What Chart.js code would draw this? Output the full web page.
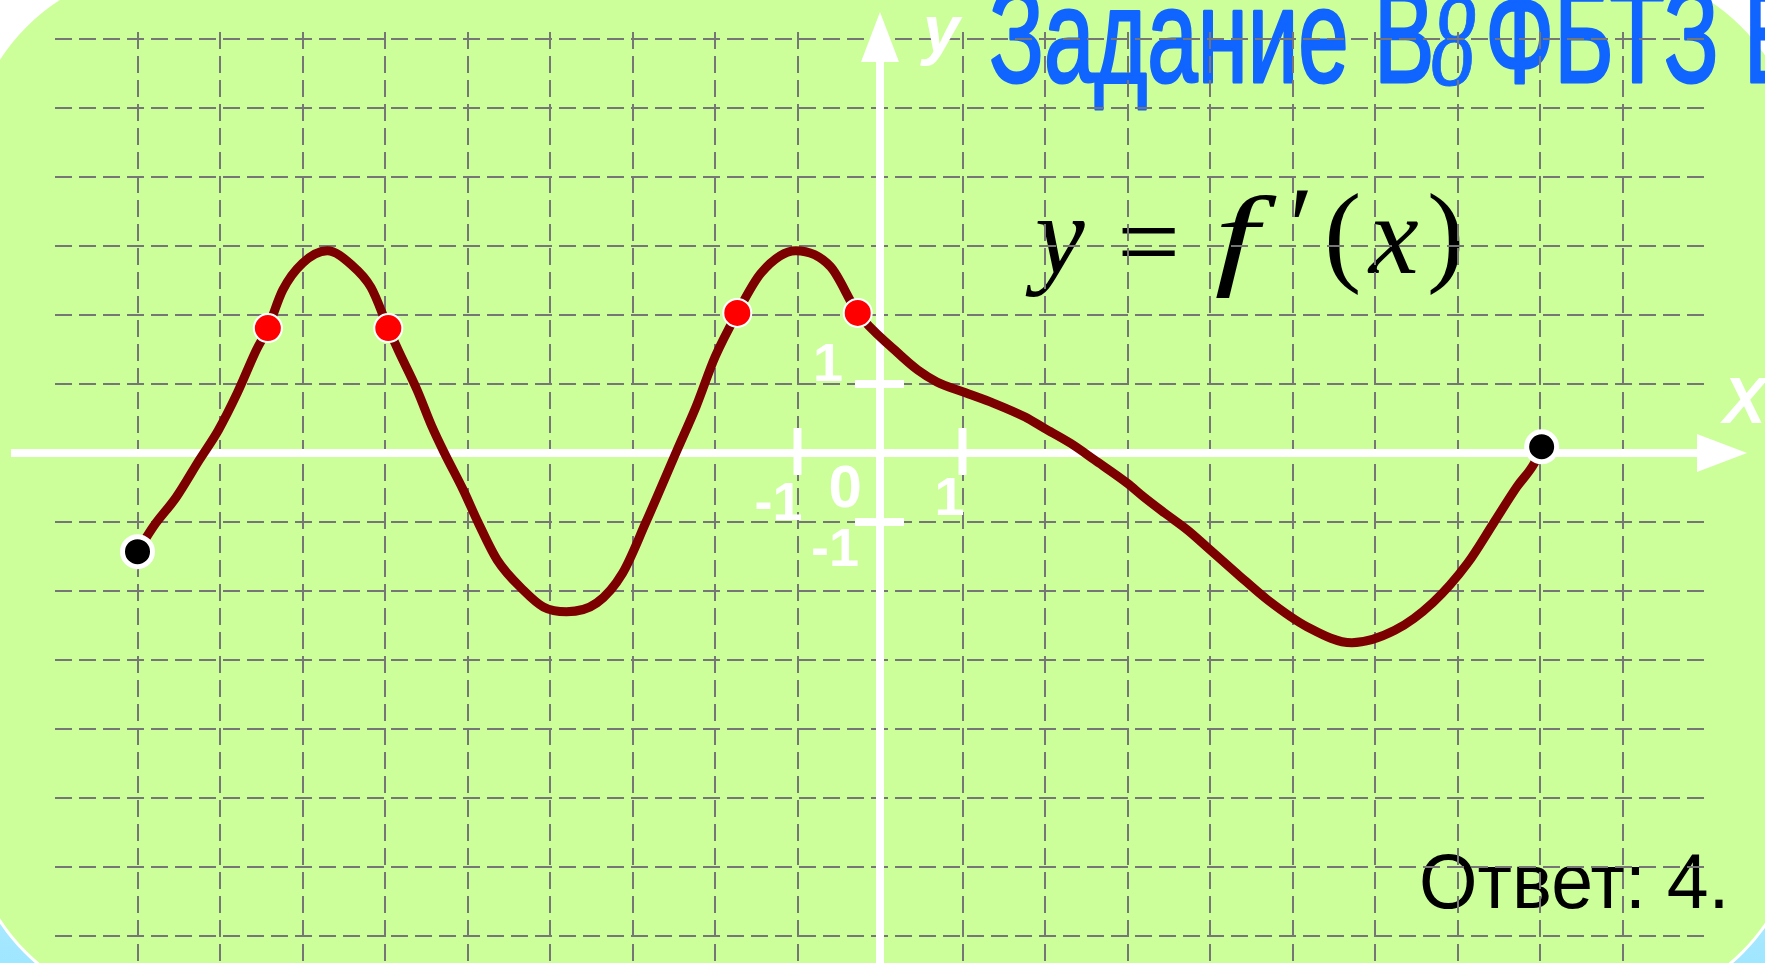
<!DOCTYPE html>
<html>
<head>
<meta charset="utf-8">
<script src="https://cdn.jsdelivr.net/npm/chart.js@4/dist/chart.umd.min.js"></script>
<style>
  html, body { margin: 0; padding: 0; }
  body {
    width: 1765px; height: 963px; overflow: hidden; position: relative;
    background: linear-gradient(#ffffff 0%, #ffffff 55%, #c8f4ff 80%, #9fe6ff 100%);
  }
  #board {
    position: absolute; left: -34px; top: -34px; width: 1836px; height: 1046px;
    background: #ccff99; border-radius: 200px; border: 3px solid #ffffff; box-sizing: border-box;
  }
  #plot { position: absolute; left: 0; top: 0; }
</style>
</head>
<body>
<div id="board"></div>
<canvas id="plot" width="1765" height="963"></canvas>
<script>
// Graph of y = f'(x): sampled points of the curve
const curveX = [-9.0, -8.81, -8.53, -8.25, -8.02, -7.79, -7.56, -7.42, -7.24, -7.0, -6.7, -6.4, -6.17, -5.96,
  -5.84, -5.61, -5.43, -5.28, -5.05, -4.87, -4.64, -4.32, -4.08, -3.8, -3.43, -3.12, -2.84, -2.46, -2.23,
  -2.0, -1.73, -1.44, -1.02, -0.6, -0.27, 0.18, 0.46, 0.69, 1.02, 1.38, 1.76, 1.99, 2.31, 2.6, 3.0, 3.19,
  3.45, 3.73, 3.96, 4.33, 4.7, 5.18, 5.72, 6.24, 6.7, 7.12, 7.44, 7.72, 7.93, 8.02];
const curveY = [-1.43, -1.07, -0.64, -0.1, 0.33, 0.87, 1.49, 1.81, 2.36, 2.75, 2.93, 2.72, 2.4, 1.81,
  1.49, 0.91, 0.38, 0.0, -0.54, -1.01, -1.55, -1.99, -2.23, -2.3, -2.17, -1.74, -1.01, 0.04, 0.67,
  1.39, 2.03, 2.61, 2.93, 2.7, 2.03, 1.49, 1.2, 1.03, 0.88, 0.72, 0.52, 0.36, 0.14, -0.1, -0.44, -0.63,
  -0.87, -1.12, -1.36, -1.75, -2.13, -2.52, -2.75, -2.57, -2.17, -1.6, -1.01, -0.49, -0.15, 0.09];

// Marked points on the curve (red) and the ends of the graph (black)
const markedX = [-7.42, -5.96, -1.73, -0.27];
const markedY = [1.81, 1.81, 2.03, 2.03];
const endX = [-9.0, 8.02];
const endY = [-1.43, 0.09];

// Grid lines and axis ticks
const xGridValues = [-9, -8, -7, -6, -5, -4, -3, -2, -1, 0, 1, 2, 3, 4, 5, 6, 7, 8, 9];
const yGridValues = [-7, -6, -5, -4, -3, -2, -1, 0, 1, 2, 3, 4, 5, 6];
const axisTicks = [-1, 1];

// Texts
const titleMain = 'Задание В';
const titleNum = '8';
const titleTail = 'ФБТЗ Б';
const answerText = 'Ответ: 4.';

const SANS = "'Liberation Sans', Arial, sans-serif";
const SERIF = "'Liberation Serif', 'Times New Roman', serif";

const toPoints = (xs, ys) => xs.map((x, i) => ({ x: x, y: ys[i] }));

// draw text positioned by its ink box
function drawInk(ctx, text, font, color, o) {
  ctx.save();
  ctx.font = font;
  ctx.fillStyle = color;
  ctx.textAlign = 'left';
  ctx.textBaseline = 'alphabetic';
  const m = ctx.measureText(text);
  const rawW = m.actualBoundingBoxLeft + m.actualBoundingBoxRight;
  const sx = o.width ? o.width / rawW : (o.sx || 1);
  const inkW = rawW * sx;
  let left = o.left;
  if (o.right !== undefined) left = o.right - inkW;
  if (o.cx !== undefined) left = o.cx - inkW / 2;
  let base = o.base;
  if (o.top !== undefined) base = o.top + m.actualBoundingBoxAscent;
  if (o.bottom !== undefined) base = o.bottom - m.actualBoundingBoxDescent;
  ctx.translate(left + m.actualBoundingBoxLeft * sx, base);
  ctx.scale(sx, 1);
  ctx.fillText(text, 0, 0);
  if (o.stroke) {
    ctx.lineWidth = o.stroke;
    ctx.strokeStyle = color;
    ctx.lineJoin = 'round';
    ctx.strokeText(text, 0, 0);
  }
  ctx.restore();
}

function inkWidth(ctx, text, font) {
  ctx.save();
  ctx.font = font;
  const m = ctx.measureText(text);
  ctx.restore();
  return m.actualBoundingBoxLeft + m.actualBoundingBoxRight;
}

// Heading, formula and answer sit under the grid
const backTexts = {
  id: 'backTexts',
  beforeDraw(chart) {
    const ctx = chart.ctx;
    const blue = '#1064ff';
    const tFont = '134px ' + SANS;
    const sx = 353 / inkWidth(ctx, 'Задание', tFont);
    drawInk(ctx, titleMain, tFont, blue, { left: 992, base: 82, sx: sx, stroke: 3 });
    drawInk(ctx, titleNum, 'italic 132px ' + SERIF, blue, { left: 1432, bottom: 86, width: 43, stroke: 1 });
    drawInk(ctx, titleTail, tFont, blue, { left: 1490, base: 82, sx: sx, stroke: 3 });

    const fi = 'italic 112px ' + SERIF;
    const fu = '112px ' + SERIF;
    drawInk(ctx, 'y', fi, '#000', { left: 1025, base: 273 });
    drawInk(ctx, '=', fu, '#000', { left: 1122, top: 228 });
    drawInk(ctx, 'f', fi, '#000', { left: 1216, bottom: 298, width: 62 });
    drawInk(ctx, '\u2032', fu, '#000', { left: 1294, top: 190 });
    drawInk(ctx, '(', fu, '#000', { left: 1328, top: 192 });
    drawInk(ctx, 'x', fi, '#000', { left: 1367, base: 273 });
    drawInk(ctx, ')', fu, '#000', { left: 1430, top: 192 });

    const aFont = '78px ' + SANS;
    drawInk(ctx, answerText, aFont, '#000', { left: 1422, base: 908, width: 301 });
  }
};

// White coordinate axes with arrows, unit ticks and labels
const whiteAxes = {
  id: 'whiteAxes',
  beforeDatasetsDraw(chart) {
    const ctx = chart.ctx;
    const xs = chart.scales.x, ys = chart.scales.y;
    const x0 = xs.getPixelForValue(0);
    const y0 = ys.getPixelForValue(0);
    const H = chart.height;
    ctx.save();
    ctx.fillStyle = '#ffffff';
    ctx.strokeStyle = '#ffffff';
    ctx.lineWidth = 8;
    // x axis
    ctx.beginPath(); ctx.moveTo(11, y0); ctx.lineTo(1700, y0); ctx.stroke();
    ctx.beginPath(); ctx.moveTo(1747, y0); ctx.lineTo(1697, y0 - 19); ctx.lineTo(1697, y0 + 19); ctx.closePath(); ctx.fill();
    // y axis
    ctx.beginPath(); ctx.moveTo(x0, H); ctx.lineTo(x0, 58); ctx.stroke();
    ctx.beginPath(); ctx.moveTo(x0, 12); ctx.lineTo(x0 - 19, 62); ctx.lineTo(x0 + 19, 62); ctx.closePath(); ctx.fill();
    // unit ticks
    axisTicks.forEach(v => {
      const px = xs.getPixelForValue(v);
      ctx.beginPath(); ctx.moveTo(px, y0 - 25); ctx.lineTo(px, y0 + 22); ctx.stroke();
      const py = ys.getPixelForValue(v);
      ctx.beginPath(); ctx.moveTo(x0 - 25, py); ctx.lineTo(x0 + 24, py); ctx.stroke();
    });
    ctx.restore();

    const lf = 'bold 54px ' + SANS;
    const px1 = xs.getPixelForValue(1), pxm1 = xs.getPixelForValue(-1);
    const py1 = ys.getPixelForValue(1), pym1 = ys.getPixelForValue(-1);
    drawInk(ctx, '1', lf, '#fff', { right: x0 - 38, bottom: py1 - 3 });
    drawInk(ctx, '0', 'bold 60px ' + SANS, '#fff', { cx: x0 - 35, bottom: y0 + 55 });
    drawInk(ctx, '-1', lf, '#fff', { right: pxm1 + 4, bottom: y0 + 67 });
    drawInk(ctx, '1', lf, '#fff', { right: px1 + 1, bottom: y0 + 62 });
    drawInk(ctx, '-1', lf, '#fff', { right: x0 - 22, bottom: pym1 + 44 });
    drawInk(ctx, 'y', 'italic bold 66px ' + SANS, '#fff', { left: x0 + 40, top: 17 });
    drawInk(ctx, 'X', 'italic bold 64px ' + SANS, '#fff', { left: 1720, bottom: y0 - 30 });
  }
};

new Chart(document.getElementById('plot'), {
  type: 'scatter',
  data: {
    datasets: [
      {
        data: toPoints(curveX, curveY),
        showLine: true,
        borderColor: '#7d0000',
        borderWidth: 9,
        borderCapStyle: 'round',
        borderJoinStyle: 'round',
        cubicInterpolationMode: 'monotone',
        pointRadius: 0,
        clip: false,
        order: 3
      },
      {
        data: toPoints(markedX, markedY),
        pointRadius: 14,
        backgroundColor: '#ff0000',
        borderColor: '#ffffff',
        borderWidth: 2,
        clip: false,
        order: 2
      },
      {
        data: toPoints(endX, endY),
        pointRadius: 15,
        backgroundColor: '#000000',
        borderColor: '#ffffff',
        borderWidth: 5,
        clip: false,
        order: 1
      }
    ]
  },
  options: {
    responsive: false,
    animation: false,
    devicePixelRatio: 1,
    layout: { autoPadding: false, padding: { left: 55, right: 60, top: 32, bottom: 0 } },
    plugins: { legend: { display: false }, tooltip: { enabled: false } },
    events: [],
    scales: {
      x: {
        type: 'linear', min: -10, max: 10,
        afterBuildTicks: a => { a.ticks = xGridValues.map(v => ({ value: v })); },
        afterFit: s => { s.height = 0; },
        ticks: { display: false },
        grid: { color: '#767676', lineWidth: 2, drawTicks: false },
        border: { display: false, dash: [17, 7] }
      },
      y: {
        type: 'linear', min: -7.39, max: 6.10,
        afterBuildTicks: a => { a.ticks = yGridValues.map(v => ({ value: v })); },
        afterFit: s => { s.width = 0; },
        ticks: { display: false },
        grid: { color: '#767676', lineWidth: 2, drawTicks: false },
        border: { display: false, dash: [17, 7] }
      }
    }
  },
  plugins: [backTexts, whiteAxes]
});
</script>
</body>
</html>
